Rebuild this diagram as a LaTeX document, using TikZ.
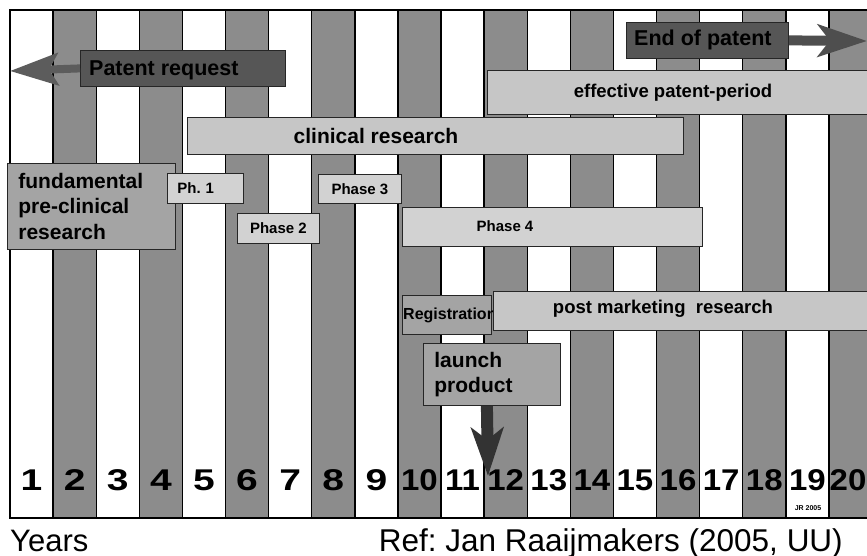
\documentclass[tikz,border=0pt]{standalone}
\usepackage{fontspec}
\usepackage{graphicx}
\setmainfont{Liberation Sans}
\usetikzlibrary{arrows.meta}
\definecolor{colgrey}{HTML}{8C8C8C}
\definecolor{lightbox}{HTML}{C6C6C6}
\definecolor{phbox}{HTML}{D2D2D2}
\definecolor{midbox}{HTML}{A4A4A4}
\definecolor{darkbox}{HTML}{565656}
\definecolor{arrowgrey}{HTML}{5C5C5C}
\definecolor{arrowdark}{HTML}{333333}
\frenchspacing
\begin{document}
\frenchspacing
\begin{tikzpicture}[x=1pt,y=-1pt,
  bar/.style={draw=black!85, line width=0.8pt, anchor=north west, inner sep=0pt, font=\bfseries},
  lbl/.style={inner sep=0pt, font=\bfseries},
  num/.style={anchor=base, inner sep=0pt, font=\bfseries\fontsize{30}{30}\selectfont},
  fat/.style={line width=#1}
]
\useasboundingbox (0,0) rectangle (867,556);
\clip (0,0) rectangle (867,556);
\fill[white] (0,0) rectangle (867,556);
% year columns
\foreach \i in {1,...,20} {
  \pgfmathsetmacro\xa{10+43.1*(\i-1)}
  \pgfmathsetmacro\xb{10+43.1*\i}
  \pgfmathparse{int(mod(\i,2))}
  \ifnum\pgfmathresult=0 \def\cc{colgrey}\else\def\cc{white}\fi
  \filldraw[fill=\cc, draw=black, line width=1.4pt] (\xa,10) rectangle (\xb,518);
}
% year numbers
\foreach \i in {1,...,9} {
  \node[num] (n\i) at ({10+43.1*(\i-0.5)},490) {\scalebox{1.3}[1]{\i}};
}
\foreach \i in {10,...,19} {
  \node[num] (n\i) at ({10+43.1*(\i-0.5)},490) {\scalebox{1.1}[1]{\i}};
}
\node[num] (n20) at (848,490) {\scalebox{1.1}[1]{20}};
\node[lbl, font=\bfseries\fontsize{7}{7}\selectfont] (jr) at (808,508) {JR 2005};

% bars
\node[bar, fill=lightbox, minimum width=393pt, minimum height=44pt] (eff) at (487,70) {};
\node[lbl, font=\bfseries\fontsize{18.5}{18.5}\selectfont] (efft) at (673,93) {effective patent-period};

\node[bar, fill=lightbox, minimum width=496pt, minimum height=37pt] (cr) at (187,117) {};
\node[lbl, font=\bfseries\fontsize{21}{21}\selectfont] (crt) at (376,136) {clinical research};

\node[bar, fill=midbox, minimum width=168pt, minimum height=86pt, inner xsep=11pt, text width=146pt, align=left,
  font=\bfseries\fontsize{21}{25.5}\selectfont] (fp) at (7,163) {fundamental\\pre-clinical\\research};

\node[bar, fill=phbox, minimum width=76pt, minimum height=30pt, inner xsep=10pt, text width=56pt, align=left,
  font=\bfseries\fontsize{15}{15}\selectfont] (ph1) at (167,173) {Ph. 1};
\node[bar, fill=phbox, minimum width=82pt, minimum height=30pt,
  font=\bfseries\fontsize{15}{15}\selectfont] (ph2) at (237,213) {Phase 2};
\node[bar, fill=phbox, minimum width=83pt, minimum height=29pt,
  font=\bfseries\fontsize{15}{15}\selectfont] (ph3) at (318,174) {Phase 3};

\node[bar, fill=phbox, minimum width=300pt, minimum height=39pt] (ph4) at (402,207) {};
\node[lbl, font=\bfseries\fontsize{15}{15}\selectfont] (ph4t) at (505,226) {Phase 4};

\node[bar, fill=midbox, minimum width=89pt, minimum height=39pt] (reg) at (402,295) {};
\node[lbl, anchor=west, font=\bfseries\fontsize{16}{16}\selectfont] (regt) at ([xshift=1pt]reg.west) {Registration};

\node[bar, fill=lightbox, minimum width=387pt, minimum height=39pt] (pm) at (493,291) {};
\node[lbl, font=\bfseries\fontsize{18.5}{18.5}\selectfont] (pmt) at (663,309) {post marketing\ \ research};

\node[bar, fill=midbox, minimum width=137pt, minimum height=62pt, inner xsep=11pt, text width=115pt, align=left,
  font=\bfseries\fontsize{21}{25}\selectfont] (lp) at (423,343) {launch\\product};

% launch arrow
\coordinate (lptip) at (488,476);
\draw[arrowdark, fat=12pt, -{Stealth[length=48pt, width=32pt, inset=12pt]}] ([xshift=-5pt]lp.south) -- (lptip);

% patent request
\coordinate (prtip) at (10,71);
\node[bar, fill=darkbox, minimum width=205pt, minimum height=36pt] (pr) at (80,50) {};
\draw[arrowgrey, fat=8pt, -{Stealth[length=48pt, width=32pt, inset=9pt]}] (pr.west) -- (prtip);
\node[lbl, anchor=west, font=\bfseries\fontsize{21.5}{21.5}\selectfont, text=black] (prt) at (89,70) {Patent request};

% end of patent
\coordinate (eptip) at (867,41);
\node[bar, fill=darkbox, minimum width=162pt, minimum height=36pt] (ep) at (626,22) {};
\draw[arrowgrey!85!black, fat=10pt, -{Stealth[length=49pt, width=32pt, inset=12pt]}] (ep.east) -- (eptip);
\node[lbl, anchor=west, font=\bfseries\fontsize{21.5}{21.5}\selectfont, text=black] (ept) at (634,40) {End of patent};

% captions
\node[anchor=base west, inner sep=0pt, font=\fontsize{31}{31}\selectfont] (yrs) at (10,551) {Years};
\node[anchor=base east, inner sep=0pt, font=\fontsize{31.5}{31.5}\selectfont] (ref) at (843,551) {Ref: Jan Raaijmakers (2005, UU)};
\end{tikzpicture}
\end{document}
